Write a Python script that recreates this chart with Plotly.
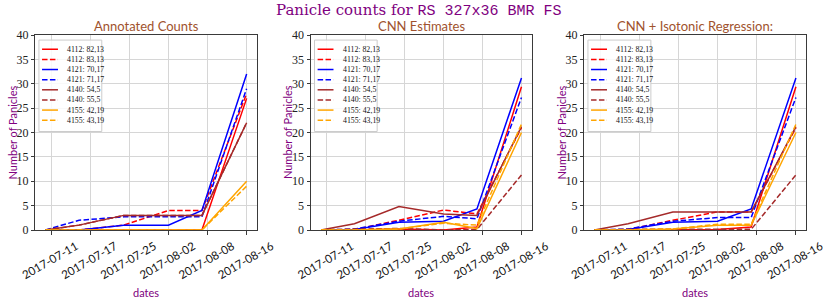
import plotly.graph_objects as go

# ---------------- data ----------------
dates = ['2017-07-11', '2017-07-17', '2017-07-25', '2017-08-02', '2017-08-08', '2017-08-16']
# tick positions used by the original axis (weekly), labelled with the observation dates
tick_positions = ['2017-07-12', '2017-07-19', '2017-07-26', '2017-08-02', '2017-08-09', '2017-08-16']
tick_labels = ['2017-07-11', '2017-07-17', '2017-07-25', '2017-08-02', '2017-08-08', '2017-08-16']
y_ticks = [0, 5, 10, 15, 20, 25, 30, 35, 40]

series_names = ['4112: 82,13', '4112: 83,13', '4121: 70,17', '4121: 71,17',
                '4140: 54,5', '4140: 55,5', '4155: 42,19', '4155: 43,19']
series_colors = ['#ff0000', '#ff0000', '#0000ff', '#0000ff',
                 '#a52a2a', '#a52a2a', '#ffa500', '#ffa500']
series_dash = ['solid', 'dash', 'solid', 'dash', 'solid', 'dash', 'solid', 'dash']

panel_titles = ['Annotated Counts', 'CNN Estimates', 'CNN + Isotonic Regression:']

annotated_counts = [
    [0, 0, 0, 0, 0, 27],
    [0, 0, 1, 4, 4, 28],
    [0, 0, 1, 1, 4, 32],
    [0, 2, 2.7, 2.7, 2.7, 29],
    [0, 1, 3, 3, 3, 22],
    [0, 1, 3, 3, 3, 22],
    [0, 0, 0, 0, 0, 10],
    [0, 0, 0, 0, 0, 9],
]
cnn_estimates = [
    [0, 0, 0.2, 0, 0.6, 29.4],
    [0, 0.1, 2.0, 4.1, 3.3, 21],
    [0, 0.1, 1.6, 1.8, 4.3, 31.2],
    [0, 0.2, 1.8, 2.8, 2.3, 27.2],
    [0, 1.3, 4.8, 3.3, 3.0, 21.2],
    [0, 0.2, 0.3, 0, 0.1, 11.3],
    [0, 0, 0.2, 1.6, 0.3, 20],
    [0, 0, 0.2, 1.4, 1.0, 21.7],
]
cnn_isotonic = [
    [0, 0, 0.1, 0.1, 0.6, 29.4],
    [0, 0.1, 2.0, 3.7, 3.7, 21],
    [0, 0.1, 1.6, 1.8, 4.3, 31.2],
    [0, 0.2, 1.8, 2.55, 2.55, 27.2],
    [0, 1.3, 3.7, 3.7, 3.7, 21.2],
    [0, 0.13, 0.13, 0.13, 0.13, 11.3],
    [0, 0, 0.2, 0.95, 0.95, 20],
    [0, 0, 0.2, 1.2, 1.2, 21.7],
]
panels = [annotated_counts, cnn_estimates, cnn_isotonic]

# ---------------- style / layout ----------------
W, H = 830, 302
x_domains = [[35.4 / W, 256.7 / W], [311.0 / W, 531.5 / W], [584.4 / W, 806.0 / W]]
y_domain = [(H - 230) / H, (H - 35) / H]
x_range = ['2017-07-09 04:48', '2017-08-17 19:12']

PURPLE = '#800080'
SIENNA = '#a0522d'
SANS = 'Lato, Roboto, sans-serif'
SERIF = 'Liberation Serif, DejaVu Serif, serif'
dash_map = {'solid': 'solid', 'dash': '5.5px,2.4px'}

fig = go.Figure()
annotations = []
shapes = []

for p, data in enumerate(panels):
    k = '' if p == 0 else str(p + 1)
    for i, vals in enumerate(data):
        fig.add_trace(go.Scatter(
            x=dates, y=vals, mode='lines', name=series_names[i],
            line=dict(color=series_colors[i], width=1.5, dash=dash_map[series_dash[i]]),
            xaxis='x' + k, yaxis='y' + k, showlegend=False,
        ))
    axis_common = dict(showline=True, mirror=True, linecolor='#3a3a3a', linewidth=1,
                       showgrid=True, gridcolor='#d6d6d6', gridwidth=1,
                       ticks='outside', ticklen=3.5, tickcolor='#3a3a3a', zeroline=False)
    fig.update_layout(**{
        'xaxis' + k: dict(domain=x_domains[p], anchor='y' + k, type='date', range=x_range,
                          tickmode='array', tickvals=tick_positions, ticktext=tick_labels,
                          tickangle=-30, tickfont=dict(family=SANS, size=11.5, color='#111'),
                          ticklabelshift=25, ticklabelstandoff=1,
                          automargin=False, **axis_common),
        'yaxis' + k: dict(domain=y_domain, anchor='x' + k, range=[0, 40],
                          tickmode='array', tickvals=y_ticks,
                          tickfont=dict(family=SERIF, size=12, color='#222'),
                          automargin=False, **axis_common),
    })
    xc = (x_domains[p][0] + x_domains[p][1]) / 2
    # panel title
    annotations.append(dict(text=panel_titles[p], xref='paper', yref='paper', x=xc, y=(H - 25.5) / H,
                            showarrow=False, xanchor='center', yanchor='middle',
                            font=dict(family=SANS, size=13, color=SIENNA)))
    # y label
    annotations.append(dict(text='Number of Panicles', xref='paper', yref='paper',
                            x=x_domains[p][0] - 23.4 / W, y=(H - 132.5) / H, textangle=-90,
                            showarrow=False, xanchor='center', yanchor='middle',
                            font=dict(family=SANS, size=11, color=PURPLE)))
    # x label
    annotations.append(dict(text='dates', xref='paper', yref='paper', x=xc, y=(H - 292) / H,
                            showarrow=False, xanchor='center', yanchor='middle',
                            font=dict(family=SANS, size=11, color=PURPLE)))
    # legend (frame + entries)
    xr = 'x' + k + ' domain'
    yr = 'y' + k + ' domain'
    shapes.append(dict(type='rect', xref=xr, yref=yr, x0=0.016, x1=0.30, y0=0.505, y1=0.974,
                       line=dict(color='#cccccc', width=1), fillcolor='rgba(255,255,255,0.85)',
                       layer='above'))
    for i, nm in enumerate(series_names):
        yy = 0.927 - i * 0.052
        shapes.append(dict(type='line', xref=xr, yref=yr, x0=0.03, x1=0.102, y0=yy, y1=yy,
                           line=dict(color=series_colors[i], width=1.5,
                                     dash=dash_map[series_dash[i]]), layer='above'))
        annotations.append(dict(text=nm, xref=xr, yref=yr, x=0.134, y=yy, showarrow=False,
                                xanchor='left', yanchor='middle',
                                font=dict(family=SERIF, size=7.8, color='#111')))

# suptitle
annotations.append(dict(
    text="Panicle counts for <span style='font-family:Liberation Mono, DejaVu Sans Mono, monospace'>RS 327x36 BMR FS</span>",
    xref='paper', yref='paper', x=418 / W, y=(H - 11) / H, showarrow=False,
    xanchor='center', yanchor='middle',
    font=dict(family='DejaVu Serif, serif', size=15, color=PURPLE)))

fig.update_layout(width=W, height=H, margin=dict(l=0, r=0, t=0, b=0),
                  paper_bgcolor='white', plot_bgcolor='white',
                  annotations=annotations, shapes=shapes, showlegend=False)

fig.write_html('out.html', config={'displayModeBar': False},
               post_script="document.body.style.margin='0px';document.body.style.padding='0px';")
